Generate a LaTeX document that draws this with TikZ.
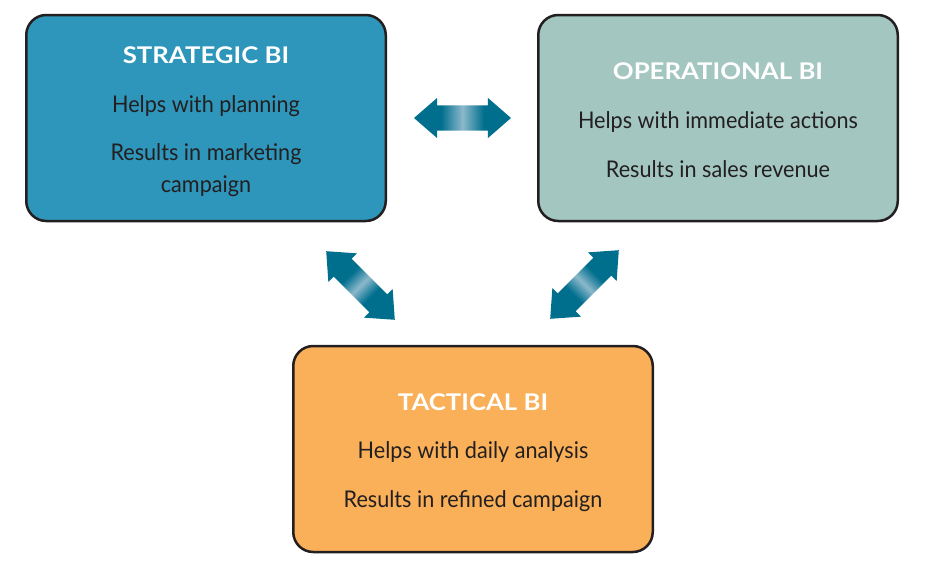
\documentclass[tikz,border=0pt]{standalone}
\usepackage{fontspec}
\setmainfont{Lato}
\newfontfamily\bodyfont[FakeStretch=0.94]{Lato}
\newfontfamily\titlefont[FakeStretch=1.12]{Lato Bold}
\usetikzlibrary{shapes.arrows}

\definecolor{strategicblue}{HTML}{2E96BA}
\definecolor{operationalgreen}{HTML}{A3C7C0}
\definecolor{tacticalorange}{HTML}{F9B058}
\definecolor{boxline}{HTML}{231F20}
\definecolor{arrowblue}{HTML}{006F8E}
\definecolor{arrowlight}{HTML}{8CB8CB}

\pgfdeclarehorizontalshading{arrowshade}{100bp}{color(0bp)=(arrowblue); color(25bp)=(arrowblue); color(39bp)=(arrowblue); color(50bp)=(arrowlight); color(61bp)=(arrowblue); color(75bp)=(arrowblue); color(100bp)=(arrowblue)}

\tikzset{
  bibox/.style={draw=boxline, line width=2.5pt, rounded corners=20pt,
    minimum width=359.5pt, minimum height=206pt, inner sep=0pt},
  bititle/.style={anchor=base, inner sep=0pt, text=white,
    font=\titlefont\fontsize{23}{28}\selectfont},
  bitext/.style={anchor=base, inner sep=0pt, text=boxline,
    font=\bodyfont\fontsize{23}{28}\selectfont},
  biarrow/.style={double arrow, shading=arrowshade, draw=none,
    inner xsep=0pt, inner ysep=12.5pt,
    minimum height=97pt, minimum width=40pt,
    double arrow head extend=7.5pt, double arrow tip angle=82}
}

\begin{document}
\begin{tikzpicture}[x=1pt, y=-1pt]
  \useasboundingbox (0,0) rectangle (932,568);

  % boites
  \node[bibox, fill=strategicblue] (strategic) at (206,118) {};
  \node[bibox, fill=operationalgreen] (operational) at (718,118) {};
  \node[bibox, fill=tacticalorange] (tactical) at (473,449) {};

  % strategic
  \node[bititle] (strategictitle) at (206,63) {STRATEGIC BI};
  \node[bitext] (strategicone) at (206,112) {Helps with planning};
  \node[bitext] (strategictwo) at (206,160) {Results in marketing};
  \node[bitext] (strategicthree) at (206,192) {campaign};

  % operational
  \node[bititle] (operationaltitle) at (718,79) {OPERATIONAL BI};
  \node[bitext] (operationalone) at (718,128) {Helps with immediate actions};
  \node[bitext] (operationaltwo) at (718,177) {Results in sales revenue};

  % tactical
  \node[bititle] (tacticaltitle) at (473,410) {TACTICAL BI};
  \node[bitext] (tacticalone) at (473,458) {Helps with daily analysis};
  \node[bitext] (tacticaltwo) at (473,507) {Results in refined campaign};

  % fleches
  \node[biarrow] (strategicoperational) at (462.5,118) {};
  \node[biarrow, rotate=-45, shading angle=-45] (strategictactical) at (360.5,285.5) {};
  \node[biarrow, rotate=45, shading angle=45] (operationaltactical) at (584.5,284.5) {};
\end{tikzpicture}
\end{document}
